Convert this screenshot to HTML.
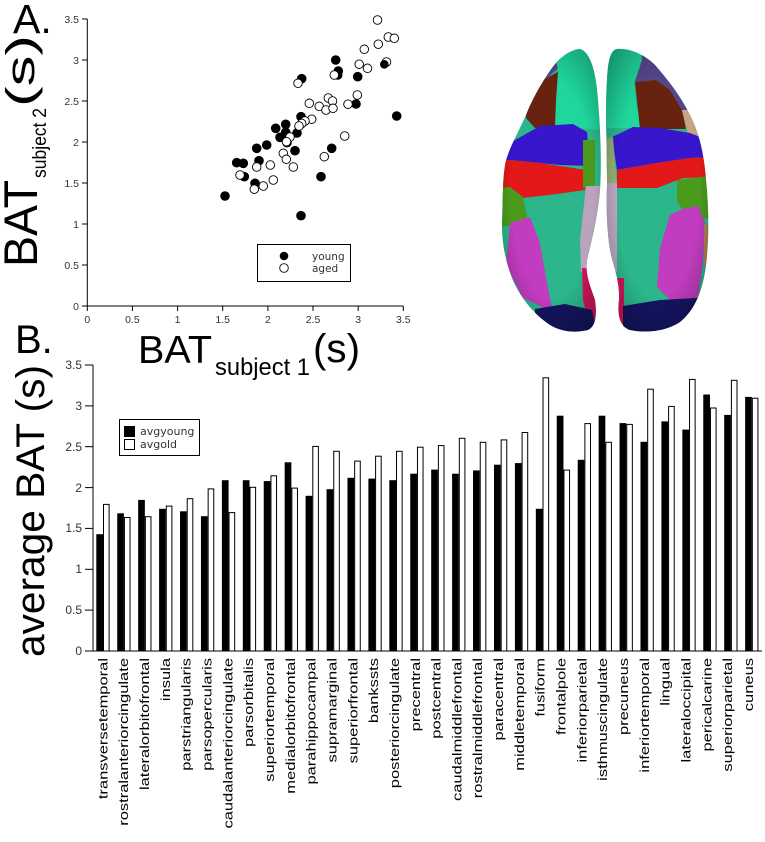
<!DOCTYPE html>
<html><head><meta charset="utf-8"><style>
html,body{margin:0;padding:0;background:#fff;}
svg{display:block;}
text{font-family:"Liberation Sans",Arial,sans-serif;}
.t{font-family:"DejaVu Sans","Liberation Sans",sans-serif;fill:#333;}
</style></head><body>
<svg width="765" height="842" viewBox="0 0 765 842" xmlns="http://www.w3.org/2000/svg">
<rect width="765" height="842" fill="#fff"/>

<!-- ============ Panel A scatter ============ -->
<text x="13" y="33" font-size="41">A.</text>
<text transform="translate(37,267) rotate(-90)" font-size="47" textLength="87" lengthAdjust="spacingAndGlyphs">BAT</text>
<text transform="translate(46,178) rotate(-90)" font-size="19" textLength="70" lengthAdjust="spacingAndGlyphs">subject 2</text>
<text transform="translate(34,107) rotate(-90)" font-size="40" textLength="72" lengthAdjust="spacingAndGlyphs">(s)</text>

<text x="138" y="363" font-size="39" textLength="74" lengthAdjust="spacingAndGlyphs">BAT</text>
<text x="215" y="375" font-size="24" textLength="95" lengthAdjust="spacingAndGlyphs">subject 1</text>
<text x="313" y="362" font-size="40" textLength="47" lengthAdjust="spacingAndGlyphs">(s)</text>

<g stroke="#000" stroke-width="1" fill="none">
<line x1="87.3" y1="19" x2="87.3" y2="306"/>
<line x1="87.3" y1="306" x2="403.3" y2="306"/>
<line x1="82" y1="19" x2="87.3" y2="19"/>
<line x1="82" y1="60" x2="87.3" y2="60"/>
<line x1="82" y1="101" x2="87.3" y2="101"/>
<line x1="82" y1="142" x2="87.3" y2="142"/>
<line x1="82" y1="183" x2="87.3" y2="183"/>
<line x1="82" y1="224" x2="87.3" y2="224"/>
<line x1="82" y1="265" x2="87.3" y2="265"/>
<line x1="82" y1="306" x2="87.3" y2="306"/>
<line x1="87.3" y1="306" x2="87.3" y2="311"/>
<line x1="132.4" y1="306" x2="132.4" y2="311"/>
<line x1="177.6" y1="306" x2="177.6" y2="311"/>
<line x1="222.7" y1="306" x2="222.7" y2="311"/>
<line x1="267.9" y1="306" x2="267.9" y2="311"/>
<line x1="313" y1="306" x2="313" y2="311"/>
<line x1="358.2" y1="306" x2="358.2" y2="311"/>
<line x1="403.3" y1="306" x2="403.3" y2="311"/>
</g>
<g class="t" font-size="10.5" text-anchor="end">
<text x="79" y="23">3.5</text>
<text x="79" y="64">3</text>
<text x="79" y="105">2.5</text>
<text x="79" y="146">2</text>
<text x="79" y="187">1.5</text>
<text x="79" y="228">1</text>
<text x="79" y="269">0.5</text>
<text x="79" y="310">0</text>
</g>
<g class="t" font-size="10.5" text-anchor="middle">
<text x="87.3" y="323">0</text>
<text x="132.4" y="323">0.5</text>
<text x="177.6" y="323">1</text>
<text x="222.7" y="323">1.5</text>
<text x="267.9" y="323">2</text>
<text x="313" y="323">2.5</text>
<text x="358.2" y="323">3</text>
<text x="403.3" y="323">3.5</text>
</g>

<!-- young points -->
<g fill="#000" stroke="#000" stroke-width="1">
<circle cx="225" cy="196" r="4.3"/><circle cx="236.7" cy="162.7" r="4.3"/><circle cx="243.3" cy="163.3" r="4.3"/>
<circle cx="244.3" cy="176.7" r="4.3"/><circle cx="255" cy="183.3" r="4.3"/><circle cx="256.7" cy="148.3" r="4.3"/>
<circle cx="259" cy="160.7" r="4.3"/><circle cx="266.7" cy="145" r="4.3"/><circle cx="275.7" cy="128.3" r="4.3"/>
<circle cx="280" cy="137.3" r="4.3"/><circle cx="285.7" cy="124.3" r="4.3"/><circle cx="285.7" cy="132.3" r="4.3"/>
<circle cx="287" cy="142.7" r="4.3"/><circle cx="295" cy="150.7" r="4.3"/><circle cx="297" cy="133" r="4.3"/>
<circle cx="301" cy="116.7" r="4.3"/><circle cx="301.7" cy="78.7" r="4.3"/><circle cx="301" cy="215.7" r="4.3"/>
<circle cx="321" cy="176.7" r="4.3"/><circle cx="331.7" cy="148.3" r="4.3"/><circle cx="335.7" cy="60" r="4.3"/>
<circle cx="338.3" cy="71" r="4.3"/><circle cx="337.7" cy="75" r="4.3"/><circle cx="356" cy="104" r="4.3"/>
<circle cx="357.7" cy="76.7" r="4.3"/><circle cx="396.7" cy="116" r="4.3"/>
</g>
<!-- aged points -->
<g fill="#fff" stroke="#000" stroke-width="0.9">
<circle cx="377.5" cy="20" r="4.3"/><circle cx="388.3" cy="37" r="4.3"/><circle cx="394.3" cy="38.3" r="4.3"/>
<circle cx="378.3" cy="44.2" r="4.3"/><circle cx="364.3" cy="49.3" r="4.3"/><circle cx="359.2" cy="64.2" r="4.3"/>
<circle cx="367.5" cy="68.3" r="4.3"/><circle cx="386.5" cy="62" r="4.3"/><circle cx="334.3" cy="75" r="4.3"/>
<circle cx="298" cy="83.3" r="4.3"/><circle cx="357.3" cy="95" r="4.3"/><circle cx="328.3" cy="98" r="4.3"/>
<circle cx="332.5" cy="101" r="4.3"/><circle cx="309.3" cy="103.3" r="4.3"/><circle cx="319.2" cy="106.3" r="4.3"/>
<circle cx="326" cy="110" r="4.3"/><circle cx="333" cy="108.3" r="4.3"/><circle cx="348" cy="104.2" r="4.3"/>
<circle cx="311.7" cy="119.2" r="4.3"/><circle cx="305" cy="121" r="4.3"/><circle cx="301.7" cy="123.5" r="4.3"/>
<circle cx="299" cy="126" r="4.3"/><circle cx="344.7" cy="136" r="4.3"/><circle cx="290" cy="137" r="4.3"/>
<circle cx="286.5" cy="141.7" r="4.3"/><circle cx="283.3" cy="153.3" r="4.3"/><circle cx="286.3" cy="159.3" r="4.3"/>
<circle cx="293.3" cy="167" r="4.3"/><circle cx="270.3" cy="165" r="4.3"/><circle cx="256.7" cy="167" r="4.3"/>
<circle cx="273.3" cy="180" r="4.3"/><circle cx="263.3" cy="186" r="4.3"/><circle cx="254.3" cy="189.2" r="4.3"/>
<circle cx="240" cy="175" r="4.3"/><circle cx="324.3" cy="156.7" r="4.3"/>
</g>
<g fill="#000"><circle cx="384.3" cy="64.3" r="4.3"/></g>

<!-- scatter legend -->
<rect x="257.5" y="244.5" width="93" height="37" fill="#fff" stroke="#000" stroke-width="1"/>
<circle cx="284" cy="256" r="4.3" fill="#000"/>
<circle cx="284" cy="268" r="4.3" fill="#fff" stroke="#000" stroke-width="0.9"/>
<text class="t" x="312" y="260" font-size="10.5">young</text>
<text class="t" x="312" y="272" font-size="10.5">aged</text>

<!-- ============ Brain ============ -->
<defs>
<clipPath id="cl"><path d="M580,49 C568,50 558,60 552,68 C540,85 532,100 526,115 C517,135 508,150 505,165 C502,185 503,205 502,225 C502,245 506,262 512,278 C520,298 535,315 550,325 C562,332 575,333 588,330 C596,326 597,315 595,300 C590,285 585,275 587,260 C592,240 598,215 600,190 C602,160 600,120 597,90 C595,70 590,52 580,49 Z"/></clipPath>
<clipPath id="cr"><path d="M617,49 C630,48 645,55 655,65 C668,80 680,95 690,115 C700,135 704,155 706,180 C709,210 709,240 706,265 C703,290 695,310 680,322 C665,332 645,333 630,330 C620,327 617,315 619,300 C620,285 615,270 611,255 C607,235 606,210 607,185 C607,150 605,110 607,80 C608,62 610,50 617,49 Z"/></clipPath>
<radialGradient id="sh" cx="0.5" cy="0.5" r="0.6">
<stop offset="0.6" stop-color="#000" stop-opacity="0"/>
<stop offset="1" stop-color="#000" stop-opacity="0.3"/>
</radialGradient>
</defs>
<g clip-path="url(#cl)">
<rect x="495" y="40" width="115" height="300" fill="#2bb68b"/>
<polygon points="500,40 568,40 558,68 545,80 527,92 500,100" fill="#56458a"/>
<polygon points="552,40 605,40 605,130 555,127 556,100 558,70" fill="#1fd69d"/>
<polygon points="527,92 545,79 558,72 556,100 555,126 535,128 526,118" fill="#6a2210"/>
<polygon points="495,150 515,140 540,126 573,124 587,132 590,166 560,165 540,163 510,160 495,160" fill="#3816cc"/>
<polygon points="495,160 510,160 540,163 580,169 588,170 585,190 557,194 523,198 510,190 495,188" fill="#e31818"/>
<polygon points="583,140 595,140 595,188 583,188" fill="#4b9a1c"/>
<polygon points="495,188 510,187 523,197 528,222 510,226 495,226" fill="#4b9a1c"/>
<polygon points="510,223 530,217 540,243 547,283 553,312 523,298 506,265" fill="#c13cbf"/>
<polygon points="586,186 605,186 605,278 581,272 580,240" fill="#b9a3bd"/>
<polygon points="582,268 600,270 602,325 590,328 583,300" fill="#d4145c"/>
<polygon points="535,309 565,304 592,310 598,340 535,340" fill="#141460"/>
<rect x="495" y="40" width="115" height="300" fill="url(#sh)"/>
</g>
<g clip-path="url(#cr)">
<rect x="600" y="40" width="115" height="300" fill="#2bb68b"/>
<polygon points="600,40 640,40 642,60 634,82 636,105 642,128 600,128" fill="#1fd69d"/>
<polygon points="640,40 720,40 720,140 700,112 682,110 670,90 656,80 635,82 642,60" fill="#56458a"/>
<polygon points="635,82 656,80 670,90 682,110 686,129 640,129" fill="#6a2210"/>
<polygon points="682,110 700,110 715,145 690,142" fill="#c9a582"/>
<polygon points="612,137 633,127 660,128 690,133 715,143 715,157 690,158 657,163 617,170" fill="#3816cc"/>
<polygon points="617,170 657,163 690,158 715,157 715,177 683,178 657,188 617,188" fill="#e31818"/>
<polygon points="600,140 613,137 617,188 600,188" fill="#8fae72"/>
<polygon points="677,180 715,175 715,218 690,219 677,202" fill="#4b9a1c"/>
<polygon points="670,215 682,209 698,206 705,223 703,263 698,298 670,300 657,287 660,248" fill="#c13cbf"/>
<polygon points="600,183 617,183 617,272 600,272" fill="#b9a3bd"/>
<polygon points="612,278 624,278 624,330 612,330" fill="#d4145c"/>
<polygon points="623,306 660,300 715,297 715,340 623,340" fill="#141460"/>
<polygon points="704,225 715,225 715,265 704,265" fill="#b08050"/>
<rect x="600" y="40" width="115" height="300" fill="url(#sh)"/>
</g>

<!-- ============ Panel B bar chart ============ -->
<text x="15" y="353" font-size="40">B.</text>
<text transform="translate(44,657) rotate(-90)" font-size="40" textLength="292" lengthAdjust="spacingAndGlyphs">average BAT (s)</text>

<g stroke="#000" stroke-width="1">
<line x1="93" y1="365" x2="93" y2="651"/>
<line x1="93" y1="651" x2="762" y2="651"/>
<line x1="85" y1="365" x2="93" y2="365"/>
<line x1="85" y1="405.9" x2="93" y2="405.9"/>
<line x1="85" y1="446.7" x2="93" y2="446.7"/>
<line x1="85" y1="487.6" x2="93" y2="487.6"/>
<line x1="85" y1="528.4" x2="93" y2="528.4"/>
<line x1="85" y1="569.3" x2="93" y2="569.3"/>
<line x1="85" y1="610.1" x2="93" y2="610.1"/>
<line x1="85" y1="651" x2="93" y2="651"/>
</g>
<g class="t" font-size="12" text-anchor="end">
<text x="82" y="369">3.5</text>
<text x="82" y="410">3</text>
<text x="82" y="451">2.5</text>
<text x="82" y="492">2</text>
<text x="82" y="532">1.5</text>
<text x="82" y="573">1</text>
<text x="82" y="614">0.5</text>
<text x="82" y="655">0</text>
</g>

<!-- young bars -->
<g fill="#000">
<rect x="96.3" y="534.2" width="6.7" height="116.8"/>
<rect x="117.23" y="513.3" width="6.7" height="137.7"/>
<rect x="138.16" y="499.9" width="6.7" height="151.1"/>
<rect x="159.09" y="508.8" width="6.7" height="142.2"/>
<rect x="180.02" y="511.3" width="6.7" height="139.7"/>
<rect x="200.95" y="516.2" width="6.7" height="134.8"/>
<rect x="221.88" y="480.2" width="6.7" height="170.8"/>
<rect x="242.81" y="480.2" width="6.7" height="170.8"/>
<rect x="263.74" y="481.1" width="6.7" height="169.9"/>
<rect x="284.67" y="462.3" width="6.7" height="188.7"/>
<rect x="305.6" y="495.8" width="6.7" height="155.2"/>
<rect x="326.53" y="489.2" width="6.7" height="161.8"/>
<rect x="347.46" y="477.8" width="6.7" height="173.2"/>
<rect x="368.39" y="478.6" width="6.7" height="172.4"/>
<rect x="389.32" y="480.2" width="6.7" height="170.8"/>
<rect x="410.25" y="473.7" width="6.7" height="177.3"/>
<rect x="431.18" y="469.6" width="6.7" height="181.4"/>
<rect x="452.11" y="473.7" width="6.7" height="177.3"/>
<rect x="473.04" y="470.4" width="6.7" height="180.6"/>
<rect x="493.97" y="464.7" width="6.7" height="186.3"/>
<rect x="514.9" y="463.1" width="6.7" height="187.9"/>
<rect x="535.83" y="508.8" width="6.7" height="142.2"/>
<rect x="556.76" y="415.7" width="6.7" height="235.3"/>
<rect x="577.69" y="459.8" width="6.7" height="191.2"/>
<rect x="598.62" y="415.7" width="6.7" height="235.3"/>
<rect x="619.55" y="423.1" width="6.7" height="227.9"/>
<rect x="640.48" y="441.8" width="6.7" height="209.2"/>
<rect x="661.41" y="421.4" width="6.7" height="229.6"/>
<rect x="682.34" y="429.6" width="6.7" height="221.4"/>
<rect x="703.27" y="394.5" width="6.7" height="256.5"/>
<rect x="724.2" y="414.9" width="6.7" height="236.1"/>
<rect x="745.13" y="396.9" width="6.7" height="254.1"/>
</g>
<!-- old bars -->
<g fill="#fff" stroke="#000" stroke-width="1">
<rect x="103.5" y="504.4" width="5.6" height="146.6"/>
<rect x="124.43" y="517.5" width="5.6" height="133.5"/>
<rect x="145.36" y="516.7" width="5.6" height="134.3"/>
<rect x="166.29" y="506.1" width="5.6" height="144.9"/>
<rect x="187.22" y="498.7" width="5.6" height="152.3"/>
<rect x="208.15" y="488.9" width="5.6" height="162.1"/>
<rect x="229.08" y="512.6" width="5.6" height="138.4"/>
<rect x="250.01" y="487.3" width="5.6" height="163.7"/>
<rect x="270.94" y="475.8" width="5.6" height="175.2"/>
<rect x="291.87" y="488.1" width="5.6" height="162.9"/>
<rect x="312.8" y="446.4" width="5.6" height="204.6"/>
<rect x="333.73" y="451.3" width="5.6" height="199.7"/>
<rect x="354.66" y="461.1" width="5.6" height="189.9"/>
<rect x="375.59" y="456.2" width="5.6" height="194.8"/>
<rect x="396.52" y="451.3" width="5.6" height="199.7"/>
<rect x="417.45" y="447.2" width="5.6" height="203.8"/>
<rect x="438.38" y="445.6" width="5.6" height="205.4"/>
<rect x="459.31" y="438.3" width="5.6" height="212.7"/>
<rect x="480.24" y="442.3" width="5.6" height="208.7"/>
<rect x="501.17" y="439.9" width="5.6" height="211.1"/>
<rect x="522.1" y="432.5" width="5.6" height="218.5"/>
<rect x="543.03" y="377.8" width="5.6" height="273.2"/>
<rect x="563.96" y="470.1" width="5.6" height="180.9"/>
<rect x="584.89" y="423.6" width="5.6" height="227.4"/>
<rect x="605.82" y="442.3" width="5.6" height="208.7"/>
<rect x="626.75" y="424.4" width="5.6" height="226.6"/>
<rect x="647.68" y="389.2" width="5.6" height="261.8"/>
<rect x="668.61" y="406.4" width="5.6" height="244.6"/>
<rect x="689.54" y="379.4" width="5.6" height="271.6"/>
<rect x="710.47" y="408" width="5.6" height="243"/>
<rect x="731.4" y="380.3" width="5.6" height="270.7"/>
<rect x="752.33" y="398.2" width="5.6" height="252.8"/>
</g>

<!-- bar legend -->
<rect x="119.5" y="419.5" width="80" height="36" fill="#fff" stroke="#000" stroke-width="1"/>
<rect x="124" y="426" width="11" height="11" fill="#000"/>
<rect x="124.5" y="439.5" width="10" height="10" fill="#fff" stroke="#000" stroke-width="1"/>
<text class="t" x="140" y="435" font-size="11">avgyoung</text>
<text class="t" x="140" y="448" font-size="11">avgold</text>

<!-- category labels -->
<g font-size="13" text-anchor="end" fill="#000">
<text transform="translate(107.3,658) rotate(-90) scale(1.27,1)">transversetemporal</text>
<text transform="translate(128.13,658) rotate(-90) scale(1.27,1)">rostralanteriorcingulate</text>
<text transform="translate(148.96,658) rotate(-90) scale(1.27,1)">lateralorbitofrontal</text>
<text transform="translate(169.79,658) rotate(-90) scale(1.27,1)">insula</text>
<text transform="translate(190.62,658) rotate(-90) scale(1.27,1)">parstriangularis</text>
<text transform="translate(211.45,658) rotate(-90) scale(1.27,1)">parsopercularis</text>
<text transform="translate(232.28,658) rotate(-90) scale(1.27,1)">caudalanteriorcingulate</text>
<text transform="translate(253.11,658) rotate(-90) scale(1.27,1)">parsorbitalis</text>
<text transform="translate(273.94,658) rotate(-90) scale(1.27,1)">superiortemporal</text>
<text transform="translate(294.77,658) rotate(-90) scale(1.27,1)">medialorbitofrontal</text>
<text transform="translate(315.6,658) rotate(-90) scale(1.27,1)">parahippocampal</text>
<text transform="translate(336.43,658) rotate(-90) scale(1.27,1)">supramarginal</text>
<text transform="translate(357.26,658) rotate(-90) scale(1.27,1)">superiorfrontal</text>
<text transform="translate(378.09,658) rotate(-90) scale(1.27,1)">bankssts</text>
<text transform="translate(398.92,658) rotate(-90) scale(1.27,1)">posteriorcingulate</text>
<text transform="translate(419.75,658) rotate(-90) scale(1.27,1)">precentral</text>
<text transform="translate(440.58,658) rotate(-90) scale(1.27,1)">postcentral</text>
<text transform="translate(461.41,658) rotate(-90) scale(1.27,1)">caudalmiddlefrontal</text>
<text transform="translate(482.24,658) rotate(-90) scale(1.27,1)">rostralmiddlefrontal</text>
<text transform="translate(503.07,658) rotate(-90) scale(1.27,1)">paracentral</text>
<text transform="translate(523.9,658) rotate(-90) scale(1.27,1)">middletemporal</text>
<text transform="translate(544.73,658) rotate(-90) scale(1.27,1)">fusiform</text>
<text transform="translate(565.56,658) rotate(-90) scale(1.27,1)">frontalpole</text>
<text transform="translate(586.39,658) rotate(-90) scale(1.27,1)">inferiorparietal</text>
<text transform="translate(607.22,658) rotate(-90) scale(1.27,1)">isthmuscingulate</text>
<text transform="translate(628.05,658) rotate(-90) scale(1.27,1)">precuneus</text>
<text transform="translate(648.88,658) rotate(-90) scale(1.27,1)">inferiortemporal</text>
<text transform="translate(669.71,658) rotate(-90) scale(1.27,1)">lingual</text>
<text transform="translate(690.54,658) rotate(-90) scale(1.27,1)">lateraloccipital</text>
<text transform="translate(711.37,658) rotate(-90) scale(1.27,1)">pericalcarine</text>
<text transform="translate(732.2,658) rotate(-90) scale(1.27,1)">superiorparietal</text>
<text transform="translate(753.03,658) rotate(-90) scale(1.27,1)">cuneus</text>
</g>
</svg>
</body></html>
